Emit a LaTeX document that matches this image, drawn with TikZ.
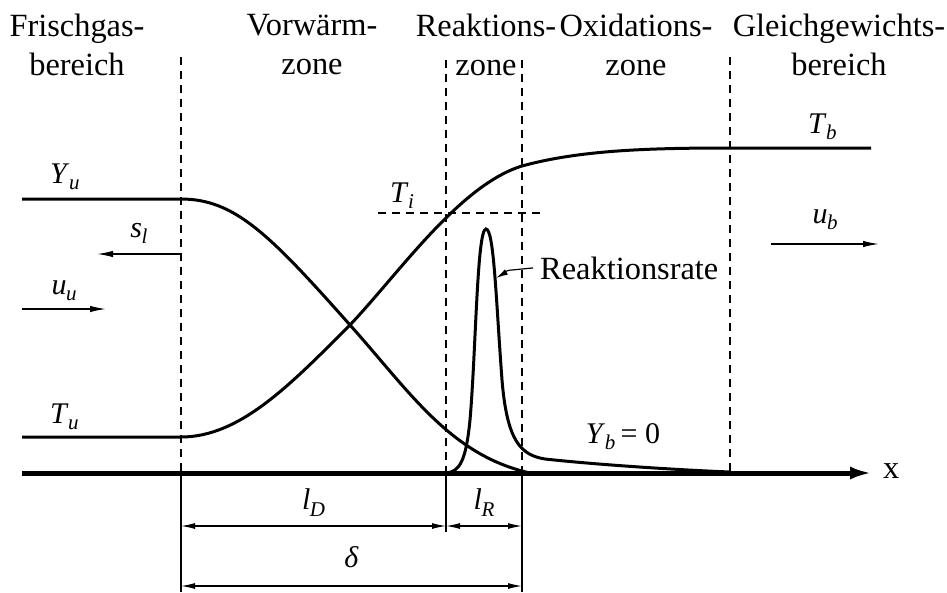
\documentclass[tikz,border=0pt]{standalone}
\usepackage{fontspec}
\setmainfont{Liberation Serif}
\usetikzlibrary{arrows.meta, positioning}
\newcommand{\qty}[2]{{\fontsize{30}{30}\selectfont\textit{#1}\kern-0.5pt\raisebox{-6.5pt}{\fontsize{21}{21}\selectfont\textit{#2}}}}

\begin{document}
\begin{tikzpicture}[x=1pt, y=-1pt, font=\fontsize{32.4}{39}\selectfont,
        curve/.style={line width=3pt},
        zoneline/.style={line width=1.8pt, dash pattern=on 8pt off 6pt},
        flow/.style={-{Latex[length=16pt,width=6.5pt]}, line width=1.4pt},
        dim/.style={{Latex[length=14pt,width=6pt]}-{Latex[length=14pt,width=6pt]}, line width=1.2pt},
        lbl/.style={inner sep=0pt}]
        \useasboundingbox (0,0) rectangle (947,592);

        \node[lbl, align=center, anchor=north] (frisch) at (77,14)  {Frischgas-\\bereich};
        \node[lbl, align=center, anchor=north] (vorw)   at (312,14) {Vorwärm-\\zone};
        \node[lbl, align=center, anchor=north] (reak)   at (486,14) {Reaktions-\\zone};
        \node[lbl, align=center, anchor=north] (oxid)   at (636,14) {Oxidations-\\zone};
        \node[lbl, align=center, anchor=north] (gleich) at (839,14) {Gleichgewichts-\\bereich};

        \coordinate (topa) at (181,57);  \coordinate (axa) at (181,473);
        \coordinate (topb) at (446,60);  \coordinate (axb) at (446,473);
        \coordinate (topc) at (522,60);  \coordinate (axc) at (522,473);
        \coordinate (topd) at (730,57);  \coordinate (axd) at (730,473);
        \draw[zoneline] (topa) -- (axa);
        \draw[zoneline] (topb) -- (axb);
        \draw[zoneline] (topc) -- (axc);
        \draw[zoneline] (topd) -- (axd);

        \coordinate (x0) at (22,473);
        \coordinate (x1) at (872,473);
        \draw[line width=5pt, -{Latex[length=22pt,width=13pt]}] (x0) -- (x1);
        \node[lbl, anchor=base west] (xlab) at (883,478) {x};

        % Brennstoff und Temperatur
        \draw[curve] (22,199) -- (181,199) .. controls (235,199) and (270,235) .. (350,325)
            .. controls (410,392) and (450,455) .. (530,473);
        \draw[curve] (22,437) -- (181,437) .. controls (240,437) and (290,385) .. (350,325)
            .. controls (400,272) and (460,185) .. (522,166)
            .. controls (580,150) and (650,148) .. (730,148) -- (871,148);
        \draw[curve] (446,473) .. controls (460,472) and (466,460) .. (470,420)
            .. controls (476,350) and (477,229) .. (486,229)
            .. controls (494,229) and (496,300) .. (502,380)
            .. controls (507,440) and (520,455) .. (545,459)
            .. controls (600,465) and (680,470) .. (730,472);

        \coordinate (tia) at (378,213);
        \coordinate (tib) at (543,213);
        \draw[zoneline] (tia) -- (tib);

        \node[lbl, anchor=base west] (Yu) at (50,183) {\qty{Y}{u}};
        \node[lbl, anchor=base west] (Tu) at (50,423) {\qty{T}{u}};
        \node[lbl, anchor=base west] (Ti) at (390,202) {\qty{T}{i}};
        \node[lbl, anchor=base west] (Tb) at (808,133) {\qty{T}{b}};
        \node[lbl, anchor=base] (Yb) at (623,443) {\qty{Y}{b}\,{\fontsize{30}{30}\selectfont= 0}};
        \node[lbl, anchor=base west] (rate) at (540,279) {Reaktionsrate};
        \coordinate (ratefrom) at ([xshift=-7pt]rate.west);
        \coordinate (ratebend) at (512,270);
        \coordinate (ratetip) at (496,278);
        \draw[line width=1.2pt, -{Latex[length=12pt,width=6pt]}] (ratefrom)
            -- (ratebend) to[out=180, in=30] (ratetip);

        \coordinate (sla) at (181,254);  \coordinate (slb) at (97,254);
        \coordinate (uua) at (22,309);   \coordinate (uub) at (106,309);
        \coordinate (uba) at (771,244);  \coordinate (ubb) at (879,244);
        \coordinate (dima) at (181,592); \coordinate (dimb) at (446,532); \coordinate (dimc) at (522,592);
        \coordinate (lda) at (181,526);  \coordinate (ldb) at (446,526); \coordinate (lrb) at (522,526);
        \coordinate (dea) at (181,586);  \coordinate (deb) at (522,586);

        \draw[line width=1.2pt] (axa) -- (dima);
        \draw[line width=1.2pt] (axb) -- (dimb);
        \draw[line width=1.2pt] (axc) -- (dimc);

        \path[flow]
        (sla) edge node[above=6pt] {\qty{s}{l}} (slb)
        (uua) edge node[above=4pt] {\qty{u}{u}} (uub)
        (uba) edge node[above=10pt] {\qty{u}{b}} (ubb);

        \path[dim]
        (lda) edge node[above=6pt] {\qty{l}{D}} (ldb)
        (ldb) edge node[above=6pt] {\qty{l}{R}} (lrb)
        (dea) edge node[above=14pt] {\fontsize{30}{30}\selectfont\textit{δ}} (deb);
    \end{tikzpicture}
\end{document}
